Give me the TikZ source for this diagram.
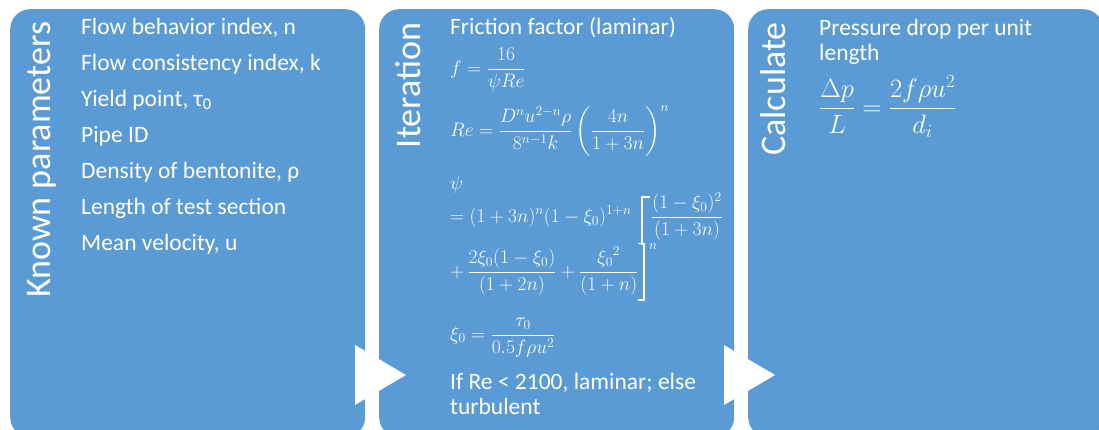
\RequirePackage{fix-cm}
\documentclass[tikz,border=0pt]{standalone}
\usepackage[no-math]{fontspec}
\setmainfont{Carlito}
\usepackage{amsmath}
\definecolor{panelblue}{RGB}{91,155,213}
\begin{document}
\begin{tikzpicture}[x=1pt,y=-1pt,
  panel/.style={fill=panelblue, draw=none, rounded corners=20pt, anchor=north west,
    minimum width=355pt, minimum height=428pt, inner sep=0pt},
  arrowtri/.style={fill=white, draw=none},
  title/.style={text=white, font=\fontsize{36}{40}\selectfont, rotate=90, anchor=base east, inner sep=0pt},
  body/.style={text=white, font=\fontsize{23.5}{25}\selectfont, anchor=base west, inner sep=0pt},
  eq/.style={text=white, font=\fontsize{19.5}{23}\selectfont, anchor=base west, inner sep=0pt},
  smalleq/.style={text=white, font=\fontsize{13.5}{15}\selectfont, anchor=base west, inner sep=0pt},
  bigeq/.style={text=white, font=\fontsize{26.5}{30}\selectfont, anchor=base west, inner sep=0pt},
  brk/.style={draw=white, line width=1.1pt}
]
\useasboundingbox (0,0) rectangle (1099,429);
\begin{scope}
\clip (0,0) rectangle (1099,429);
% panels
\node[panel] (p1) at (10,9) {};
\node[panel] (p2) at (379,9) {};
\node[panel] (p3) at (748,9) {};
% arrows between panels
\fill[arrowtri] (355,345) -- (355,405) -- (406,375) -- cycle;
\fill[arrowtri] (724,345) -- (724,405) -- (775,375) -- cycle;
\end{scope}

% titles
\node[title] (t1) at (50,21.5) {Known parameters};
\node[title] (t2) at (420,22.5) {Iteration};
\node[title] (t3) at (785.5,22) {Calculate};

% panel 1 text
\node[body] (k1) at (81,34.3) {Flow behavior index, n};
\node[body] (k2) at (81,70.3) {Flow consistency index, k};
\node[body] (k3) at (81,106.3) {Yield point, τ\textsubscript{0}};
\node[body] (k4) at (81,142.3) {Pipe ID};
\node[body] (k5) at (81,178.3) {Density of bentonite, ρ};
\node[body] (k6) at (81,214.3) {Length of test section};
\node[body] (k7) at (81,250.3) {Mean velocity, u};

% panel 2 text
\node[body] (i1) at (450,34.3) {Friction factor (laminar)};
\node[eq] (ef) at (450,74) {$\displaystyle f=\frac{16}{\psi Re}$};
\node[eq] (ere) at (450,136) {$\displaystyle Re=\frac{D^n u^{2-n}\rho}{8^{n-1}k}\left(\frac{4n}{1+3n}\right)^{n}$};
\node[eq] (epsi) at (450,189.5) {$\psi$};
\node[eq] (el2) at (450,222.5) {$\displaystyle =(1+3n)^n(1-\xi_0)^{1+n}$};
\node[eq] (efr) at (651,222) {$\displaystyle \frac{(1-\xi_0)^2}{(1+3n)}$};
\node[eq] (el3) at (450,277) {$\displaystyle +\,\frac{2\xi_0(1-\xi_0)}{(1+2n)}+\frac{{\xi_0}^2}{(1+n)}$};
\node[smalleq] (eexp) at (649,249) {$n$};
\draw[brk] (650,197) -- (642,197) -- (642,245);
\draw[brk] (638,243.5) -- (644,243.5) -- (644,300) -- (638,300);
\node[eq] (exi) at (450,340) {$\displaystyle \xi_0=\frac{\tau_0}{0.5f\rho u^2}$};
\node[body] (i2) at (450,389) {If Re < 2100, laminar; else};
\node[body] (i3) at (450,414) {turbulent};

% panel 3 text
\node[body] (c1) at (819,35) {Pressure drop per unit};
\node[body] (c2) at (819,60) {length};
\node[bigeq] (ecalc) at (819,115.5) {$\displaystyle \frac{\Delta p}{L}=\frac{2f\rho u^2}{d_i}$};
\end{tikzpicture}
\end{document}
